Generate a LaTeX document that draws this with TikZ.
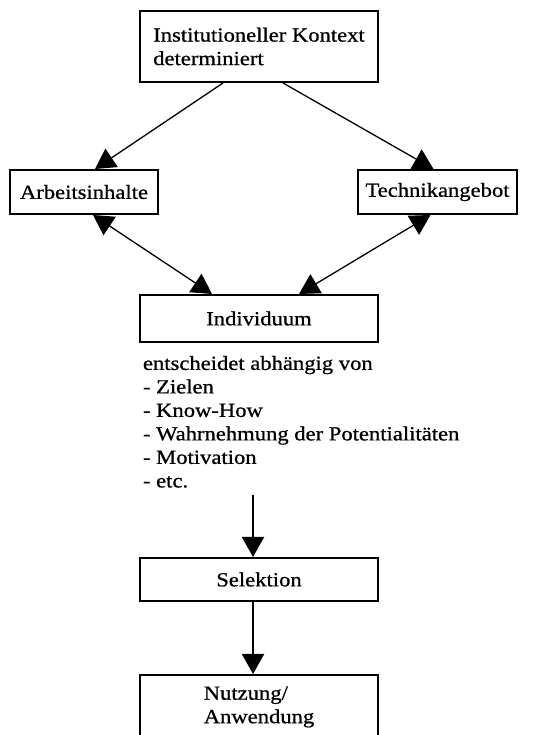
\documentclass[tikz,border=0pt]{standalone}
\usepackage{fontspec}
\setmainfont{Liberation Serif}[FakeStretch=1.13, FakeBold=0.8]
\usetikzlibrary{arrows.meta}

\begin{document}
\begin{tikzpicture}[every node/.style={rectangle, draw, line width=2pt, inner sep=0pt, font=\fontsize{20}{23.5}\selectfont},
  >={Triangle[length=20pt, width=22pt]}]
  \clip (0pt, 0pt) rectangle (533pt, 735pt);
  \node (kontext) [minimum width=238pt, minimum height=71pt, align=left] at (259pt, 688.5pt) {Institutioneller Kontext\\determiniert};
  \node (arbeit) [minimum width=148pt, minimum height=44pt] at (84pt, 543pt) {Arbeitsinhalte};
  \node (technik) [minimum width=159pt, minimum height=44pt] at (437.5pt, 543pt) {Technikangebot};
  \node (indiv) [minimum width=238pt, minimum height=47pt] at (259pt, 416.5pt) {Individuum};
  \node (kriterien) [draw=none, anchor=north west, align=left] at (142pt, 380pt) {entscheidet abh\"angig von\\- Zielen\\- Know-How\\- Wahrnehmung der Potentialit\"aten\\- Motivation\\- etc.};
  \node (selektion) [minimum width=238pt, minimum height=43pt] at (259pt, 155.5pt) {Selektion};
  \node (nutzung) [minimum width=238pt, minimum height=64pt, align=left] at (259pt, 28pt) {Nutzung/\\Anwendung};
  \coordinate (listende) at (253pt, 240pt);
  \draw [->, line width=1.3pt] ([xshift=-36pt]kontext.south) -- ([xshift=11pt]arbeit.north);
  \draw [->, line width=1.3pt] ([xshift=24pt]kontext.south) -- ([xshift=-4pt]technik.north);
  \draw [<->, line width=1.3pt] ([xshift=9pt]arbeit.south) -- ([xshift=-47pt]indiv.north);
  \draw [<->, line width=1.3pt] ([xshift=-7pt]technik.south) -- ([xshift=40pt]indiv.north);
  \draw [->, line width=2pt] (listende) -- (listende |- selektion.north);
  \draw [->, line width=2pt] ([xshift=-6pt]selektion.south) -- ([xshift=-6pt]nutzung.north);
\end{tikzpicture}
\end{document}
